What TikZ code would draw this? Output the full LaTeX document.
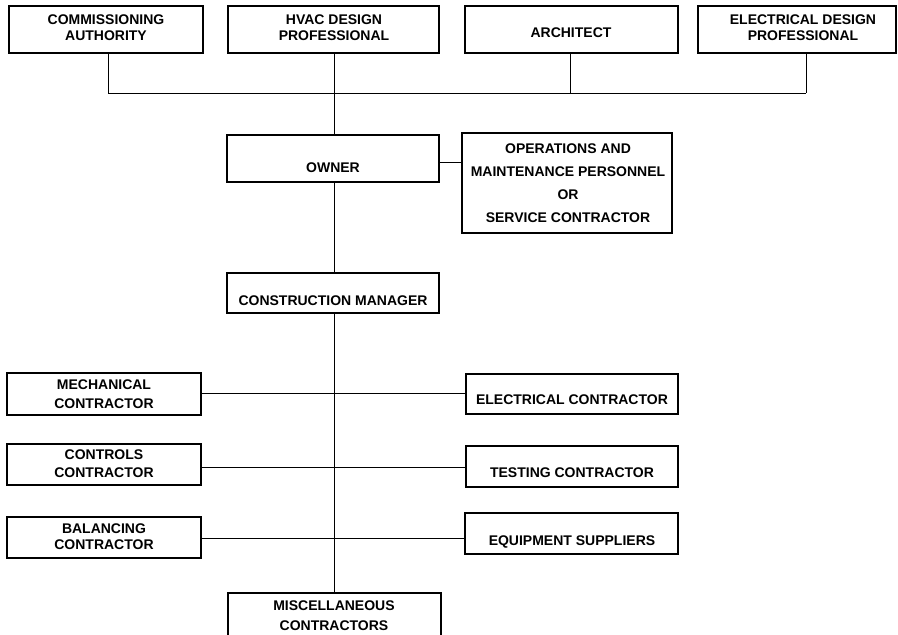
\documentclass[tikz,border=0pt]{standalone}
\usepackage{fontspec}
\setmainfont{Liberation Sans}
\tikzset{
  orgbox/.style={draw=black, line width=2pt, inner sep=0pt},
  wire/.style={draw=black, line width=1pt},
  lbl/.style={anchor=base, inner sep=0pt, font=\fontsize{14}{16}\selectfont\bfseries},
}
\begin{document}
\begin{tikzpicture}[x=1pt, y=-1pt]
\useasboundingbox (0,0) rectangle (898,635);

% boxes
\node[orgbox, minimum width=194pt, minimum height=47pt] (ca)    at (106,29.5)   {};
\node[orgbox, minimum width=211pt, minimum height=47pt] (hvac)  at (333.5,29.5) {};
\node[orgbox, minimum width=213pt, minimum height=47pt] (arch)  at (571.5,29.5) {};
\node[orgbox, minimum width=198pt, minimum height=47pt] (edp)   at (797,29.5)   {};
\node[orgbox, minimum width=212pt, minimum height=47pt] (owner) at (333,158.5)  {};
\node[orgbox, minimum width=210pt, minimum height=100pt] (om)   at (567,183)    {};
\node[orgbox, minimum width=212pt, minimum height=40pt] (cm)    at (333,293)    {};
\node[orgbox, minimum width=194pt, minimum height=42pt] (mech)  at (104,394)    {};
\node[orgbox, minimum width=212pt, minimum height=40pt] (elec)  at (572,394)    {};
\node[orgbox, minimum width=194pt, minimum height=41pt] (ctrl)  at (104,464.5)  {};
\node[orgbox, minimum width=212pt, minimum height=41pt] (test)  at (572,466.5)  {};
\node[orgbox, minimum width=194pt, minimum height=41pt] (bal)   at (104,537.5)  {};
\node[orgbox, minimum width=213pt, minimum height=41pt] (equip) at (571.5,533.5){};
\node[orgbox, minimum width=213pt, minimum height=52pt] (misc)  at (334.5,619)  {};

% labels
\node[lbl] (ca-1)   at (106,24)  {COMMISSIONING};
\node[lbl] (ca-2)   at (106,40)  {AUTHORITY};
\node[lbl] (hvac-1) at (334,24)  {HVAC DESIGN};
\node[lbl] (hvac-2) at (334,40)  {PROFESSIONAL};
\node[lbl] (arch-1) at (571,37)  {ARCHITECT};
\node[lbl] (edp-1)  at (803,24)  {ELECTRICAL DESIGN};
\node[lbl] (edp-2)  at (803,40)  {PROFESSIONAL};
\node[lbl] (own-1)  at (333,172) {OWNER};
\node[lbl] (om-1)   at (568,153) {OPERATIONS AND};
\node[lbl] (om-2)   at (568,176) {MAINTENANCE PERSONNEL};
\node[lbl] (om-3)   at (568,199) {OR};
\node[lbl] (om-4)   at (568,222) {SERVICE CONTRACTOR};
\node[lbl] (cm-1)   at (333,305) {CONSTRUCTION MANAGER};
\node[lbl] (mech-1) at (104,389) {MECHANICAL};
\node[lbl] (mech-2) at (104,408) {CONTRACTOR};
\node[lbl] (elec-1) at (572,404) {ELECTRICAL CONTRACTOR};
\node[lbl] (ctrl-1) at (104,459) {CONTROLS};
\node[lbl] (ctrl-2) at (104,477) {CONTRACTOR};
\node[lbl] (test-1) at (572,477) {TESTING CONTRACTOR};
\node[lbl] (bal-1)  at (104,533) {BALANCING};
\node[lbl] (bal-2)  at (104,549) {CONTRACTOR};
\node[lbl] (eq-1)   at (572,545) {EQUIPMENT SUPPLIERS};
\node[lbl] (misc-1) at (334,610) {MISCELLANEOUS};
\node[lbl] (misc-2) at (334,630) {CONTRACTORS};

% design team bus
\coordinate (busL)  at (108,93);
\coordinate (busR)  at (806,93);
\coordinate (trunk) at (334,93);
\coordinate (archx) at (570,93);
\draw[wire] (busL) -- (busR);
\draw[wire] (ca.south -| busL) -- (busL);
\draw[wire] (edp.south -| busR) -- (busR);
\draw[wire] (arch.south -| archx) -- (archx);
\draw[wire] (hvac.south -| trunk) -- (owner.north -| trunk);

% owner links
\coordinate (omy) at (450,162);
\draw[wire] (owner.east |- omy) -- (om.west |- omy);
\draw[wire] (owner.south -| trunk) -- (cm.north -| trunk);
\draw[wire] (cm.south -| trunk) -- (misc.north -| trunk);

% contractor branches
\coordinate (r1) at (334,393);
\coordinate (r2) at (334,467);
\coordinate (r3) at (334,538);
\draw[wire] (mech.east |- r1) -- (elec.west |- r1);
\draw[wire] (ctrl.east |- r2) -- (test.west |- r2);
\draw[wire] (bal.east |- r3) -- (equip.west |- r3);
\end{tikzpicture}
\end{document}
